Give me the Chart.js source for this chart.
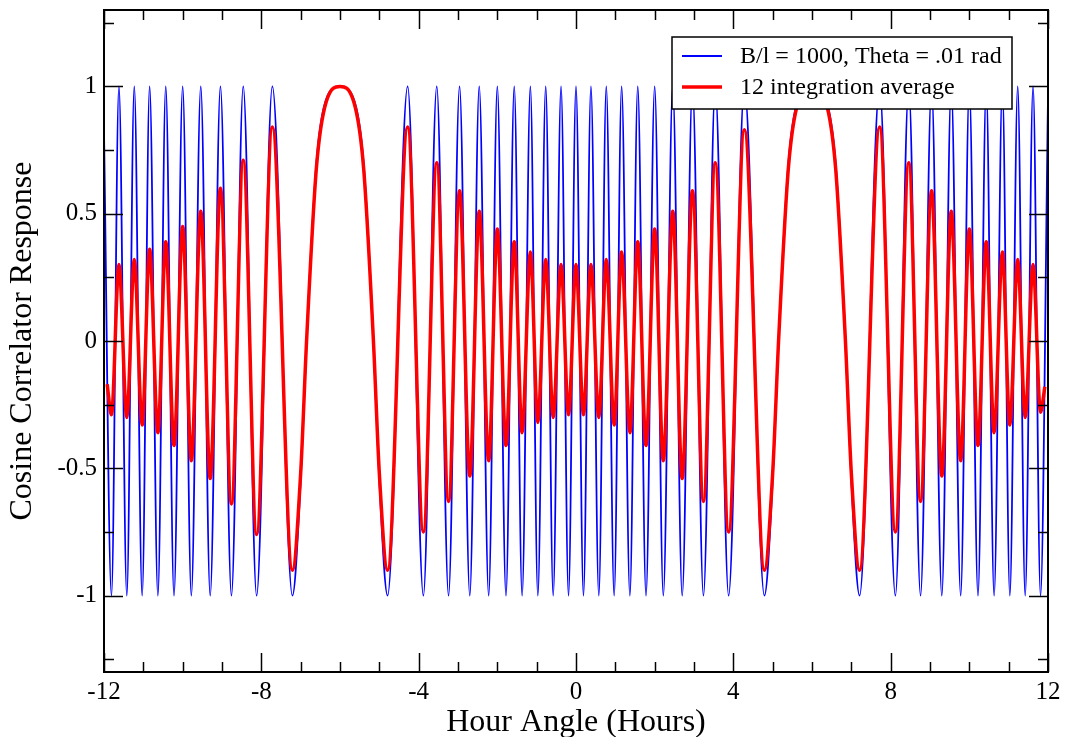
<!DOCTYPE html>
<html>
<head>
<meta charset="utf-8">
<title>Cosine Correlator Response</title>
<script src="https://cdn.jsdelivr.net/npm/chart.js@4.4.1/dist/chart.umd.min.js"></script>
<style>
  html, body { margin: 0; padding: 0; background: #fff; }
</style>
</head>
<body>
<canvas id="chart" width="1072" height="737"></canvas>
<script>
// axis ticks
const hourTicks = [-12, -8, -4, 0, 4, 8, 12];
const hourMinorTicks = [-11, -10, -9, -7, -6, -5, -3, -2, -1, 1, 2, 3, 5, 6, 7, 9, 10, 11];
const responseTicks = [-1, -0.5, 0, 0.5, 1];
const responseMinorTicks = [-1.25, -0.75, -0.25, 0.25, 0.75, 1.25];

// blue trace: turning points (hours, response)
const rawHours = [
  -12, -11.81, -11.62, -11.42, -11.23, -11.03, -10.84, -10.63, -10.43, -10.22,
  -10, -9.78, -9.54, -9.3, -9.04, -8.76, -8.46, -8.12, -7.72, -7.21,
  -7, -6.85, -6.6, -6.35, -6, -5.65, -5.4, -5.15, -5, -4.79,
  -4.28, -3.88, -3.54, -3.24, -2.96, -2.7, -2.46, -2.22, -2, -1.78,
  -1.57, -1.37, -1.16, -0.97, -0.77, -0.58, -0.38, -0.19, 0, 0.19,
  0.38, 0.58, 0.77, 0.97, 1.16, 1.37, 1.57, 1.78, 2, 2.22,
  2.46, 2.7, 2.96, 3.24, 3.54, 3.88, 4.28, 4.79, 5, 5.15,
  5.4, 5.65, 6, 6.35, 6.6, 6.85, 7, 7.21, 7.72, 8.12,
  8.46, 8.76, 9.04, 9.3, 9.54, 9.78, 10, 10.22, 10.43, 10.63,
  10.84, 11.03, 11.23, 11.42, 11.62, 11.81, 12
];
const rawResponse = [
  0.82, -1, 1, -1, 1, -1, 1, -1, 1, -1,
  1, -1, 1, -1, 1, -1, 1, -1, 1, -1,
  -0.55, 0, 0.7, 0.95, 1, 0.95, 0.7, 0, -0.55, -1,
  1, -1, 1, -1, 1, -1, 1, -1, 1, -1,
  1, -1, 1, -1, 1, -1, 1, -1, 1, -1,
  1, -1, 1, -1, 1, -1, 1, -1, 1, -1,
  1, -1, 1, -1, 1, -1, 1, -1, -0.55, 0,
  0.7, 0.95, 1, 0.95, 0.7, 0, -0.55, -1, 1, -1,
  1, -1, 1, -1, 1, -1, 1, -1, 1, -1,
  1, -1, 1, -1, 1, -1, 0.95
];

// red trace: 12 integration average, turning points
const avgHours = [
  -11.92, -11.81, -11.62, -11.42, -11.23, -11.03, -10.84, -10.63, -10.43, -10.22,
  -10, -9.78, -9.54, -9.3, -9.04, -8.76, -8.46, -8.12, -7.72, -7.21,
  -7, -6.85, -6.6, -6.35, -6, -5.65, -5.4, -5.15, -5, -4.79,
  -4.28, -3.88, -3.54, -3.24, -2.96, -2.7, -2.46, -2.22, -2, -1.78,
  -1.57, -1.37, -1.16, -0.97, -0.77, -0.58, -0.38, -0.19, 0, 0.19,
  0.38, 0.58, 0.77, 0.97, 1.16, 1.37, 1.57, 1.78, 2, 2.22,
  2.46, 2.7, 2.96, 3.24, 3.54, 3.88, 4.28, 4.79, 5, 5.15,
  5.4, 5.65, 6, 6.35, 6.6, 6.85, 7, 7.21, 7.72, 8.12,
  8.46, 8.76, 9.04, 9.3, 9.54, 9.78, 10, 10.22, 10.43, 10.63,
  10.84, 11.03, 11.23, 11.42, 11.62, 11.81, 11.92
];
const avgResponse = [
  -0.17, -0.29, 0.3, -0.3, 0.32, -0.33, 0.36, -0.36, 0.39, -0.41,
  0.45, -0.47, 0.51, -0.54, 0.6, -0.64, 0.71, -0.76, 0.84, -0.9,
  -0.52, 0, 0.68, 0.94, 1, 0.94, 0.68, 0, -0.52, -0.9,
  0.84, -0.75, 0.7, -0.63, 0.59, -0.53, 0.51, -0.47, 0.44, -0.41,
  0.39, -0.36, 0.35, -0.32, 0.32, -0.3, 0.3, -0.29, 0.3, -0.29,
  0.3, -0.3, 0.32, -0.33, 0.35, -0.36, 0.39, -0.41, 0.44, -0.47,
  0.51, -0.54, 0.59, -0.63, 0.7, -0.75, 0.83, -0.9, -0.52, 0,
  0.68, 0.94, 1, 0.94, 0.68, 0, -0.52, -0.9, 0.84, -0.75,
  0.7, -0.63, 0.59, -0.53, 0.51, -0.47, 0.44, -0.41, 0.39, -0.36,
  0.35, -0.33, 0.32, -0.3, 0.3, -0.28, -0.18
];

const FONT = "'Liberation Serif', 'Times New Roman', serif";
const toPoints = (xs, ys) => xs.map((x, i) => ({ x, y: ys[i] }));

// frame, inward ticks on all four sides, and the boxed legend
const framePlugin = {
  id: 'frame',
  afterDraw(chart) {
    const { ctx, chartArea: a, scales: { x, y } } = chart;
    const seg = (x1, y1, x2, y2) => { ctx.beginPath(); ctx.moveTo(x1, y1); ctx.lineTo(x2, y2); ctx.stroke(); };

    ctx.save();
    ctx.strokeStyle = '#000';
    ctx.lineWidth = 1.5;
    const xTick = (v, len) => {
      const px = Math.round(x.getPixelForValue(v)) + 0.5;
      seg(px, a.bottom, px, a.bottom - len);
      seg(px, a.top, px, a.top + len);
    };
    const yTick = (v, len) => {
      const py = Math.round(y.getPixelForValue(v)) + 0.5;
      seg(a.left, py, a.left + len, py);
      seg(a.right, py, a.right - len, py);
    };
    hourTicks.forEach(v => xTick(v, 19));
    hourMinorTicks.forEach(v => xTick(v, 10));
    responseTicks.forEach(v => yTick(v, 19));
    responseMinorTicks.forEach(v => yTick(v, 10));

    ctx.lineWidth = 2;
    ctx.strokeRect(a.left, a.top, a.right - a.left, a.bottom - a.top);

    // legend
    const box = { left: 672, top: 37, width: 340, height: 72 };
    ctx.fillStyle = '#fff';
    ctx.fillRect(box.left, box.top, box.width, box.height);
    ctx.lineWidth = 1.5;
    ctx.strokeStyle = '#000';
    ctx.strokeRect(box.left, box.top, box.width, box.height);

    const rows = [56, 87];
    ctx.font = '24px ' + FONT;
    ctx.textBaseline = 'middle';
    ctx.textAlign = 'left';
    chart.data.datasets.forEach((ds, i) => {
      ctx.strokeStyle = ds.borderColor;
      ctx.lineWidth = ds.borderWidth;
      seg(682, rows[i], 722, rows[i]);
      ctx.fillStyle = '#000';
      ctx.fillText(ds.label, 740, rows[i] + 1);
    });
    ctx.restore();
  }
};

const noPad = s => { s.paddingTop = 0; s.paddingBottom = 0; s.paddingLeft = 0; s.paddingRight = 0; };

new Chart(document.getElementById('chart').getContext('2d'), {
  type: 'line',
  data: {
    datasets: [
      {
        label: 'B/l = 1000, Theta = .01 rad',
        data: toPoints(rawHours, rawResponse),
        borderColor: '#0000ff',
        borderWidth: 1.8,
        pointRadius: 0,
        cubicInterpolationMode: 'monotone',
        order: 2,
      },
      {
        label: '12 integration average',
        data: toPoints(avgHours, avgResponse),
        borderColor: '#ff0000',
        borderWidth: 3.5,
        pointRadius: 0,
        cubicInterpolationMode: 'monotone',
        order: 1,
      }
    ]
  },
  options: {
    responsive: false,
    animation: false,
    layout: { padding: { top: 10, right: 24, bottom: 0, left: 0 } },
    plugins: { legend: { display: false }, tooltip: { enabled: false } },
    scales: {
      x: {
        type: 'linear',
        min: -12,
        max: 12,
        grid: { display: false, drawTicks: false },
        border: { display: false },
        afterBuildTicks: s => { s.ticks = hourTicks.map(v => ({ value: v })); },
        afterFit: s => { s.height = 65; noPad(s); },
        ticks: {
          color: '#000',
          font: { family: FONT, size: 25 },
          padding: 5,
          maxRotation: 0,
          autoSkip: false,
          callback: v => String(v),
        },
        title: {
          display: true,
          text: 'Hour Angle (Hours)',
          color: '#000',
          font: { family: FONT, size: 32, lineHeight: 0.9 },
          padding: { top: 0, bottom: 0 },
        }
      },
      y: {
        type: 'linear',
        min: -1.3,
        max: 1.3,
        grid: { display: false, drawTicks: false },
        border: { display: false },
        afterBuildTicks: s => { s.ticks = responseTicks.map(v => ({ value: v })); },
        afterFit: s => { s.width = 104; noPad(s); },
        ticks: {
          color: '#000',
          font: { family: FONT, size: 25 },
          padding: 7,
          autoSkip: false,
          callback: v => String(v),
        },
        title: {
          display: true,
          text: 'Cosine Correlator Response',
          color: '#000',
          font: { family: FONT, size: 32, lineHeight: 1 },
          padding: { top: 7, bottom: 0 },
        }
      }
    }
  },
  plugins: [framePlugin]
});
</script>
</body>
</html>
